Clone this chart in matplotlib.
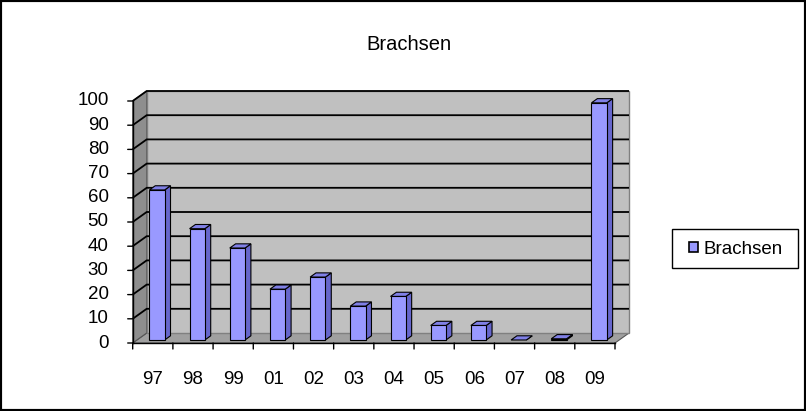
import matplotlib
matplotlib.use("Agg")
import matplotlib.pyplot as plt
from matplotlib.patches import Polygon, Rectangle, Patch

categories = ['97', '98', '99', '01', '02', '03', '04', '05', '06', '07', '08', '09']
values = [62, 46, 38, 21, 26, 14, 18, 6, 6, 0, 0.5, 98]
yticks = [0, 10, 20, 30, 40, 50, 60, 70, 80, 90, 100]
series_name = 'Brachsen'
title = 'Brachsen'

plt.rcParams['font.family'] = ['Liberation Sans', 'DejaVu Sans']

W, H = 806, 411
fig = plt.figure(figsize=(W / 100, H / 100), dpi=100)
fig.patch.set_facecolor('white')

x0p, x1p, y0p, y1p = 132.7, 615.0, 343.0, 101.0
ax = fig.add_axes([x0p / W, 1 - y0p / H, (x1p - x0p) / W, (y0p - y1p) / H])
n = len(categories)
ax.set_xlim(0, n)
ax.set_ylim(0, 100)
ax.axis('off')

DX = 14 / ((x1p - x0p) / n)
DY = 10 / ((y0p - y1p) / 100)

wall_c = '#c0c0c0'
side_c = '#8e8e8e'
floor_c = '#a0a0a0'
TFS = 13.5

# floor
ax.add_patch(Polygon([(0, 0), (n, 0), (n + DX, DY), (DX, DY)], closed=True,
                     facecolor=floor_c, edgecolor='#555555', lw=0.8, clip_on=False, zorder=1))
# side wall
ax.add_patch(Polygon([(0, 0), (DX, DY), (DX, 100 + DY), (0, 100)], closed=True,
                     facecolor=side_c, edgecolor='#555555', lw=0.8, clip_on=False, zorder=1))
# back wall
ax.add_patch(Polygon([(DX, DY), (n + DX, DY), (n + DX, 100 + DY), (DX, 100 + DY)], closed=True,
                     facecolor=wall_c, edgecolor='#808080', lw=1.0, clip_on=False, zorder=1))
# gridlines
for v in yticks[1:]:
    ax.plot([0, DX, n + DX], [v, v + DY, v + DY], color='black', lw=1.3,
            clip_on=False, zorder=2, solid_capstyle='butt')

# front axes
ax.plot([0, 0], [0, 100], color='black', lw=1.0, clip_on=False, zorder=5)
ax.plot([0, n], [0, 0], color='black', lw=1.0, clip_on=False, zorder=5)
for v in yticks:
    ax.annotate('', xy=(0, v), xytext=(-5, 0), textcoords='offset pixels',
                arrowprops=dict(arrowstyle='-', color='black', lw=1.0,
                                shrinkA=0, shrinkB=0), annotation_clip=False)
    ax.annotate(str(v), xy=(0, v), xytext=(-24, 0), textcoords='offset pixels',
                ha='right', va='center', fontsize=TFS, annotation_clip=False)
for i in range(n + 1):
    ax.annotate('', xy=(i, 0), xytext=(0, -6), textcoords='offset pixels',
                arrowprops=dict(arrowstyle='-', color='black', lw=1.0,
                                shrinkA=0, shrinkB=0), annotation_clip=False)
for i, c in enumerate(categories):
    ax.annotate(c, xy=(i + 0.5, 0), xytext=(0, -36), textcoords='offset pixels',
                ha='center', va='center', fontsize=TFS, annotation_clip=False)

# bars
front_c = '#9999ff'
side_bar = '#6666cc'
top_c = '#8080e6'
bw = 0.38
f0, f1 = 0.30, 0.72
for i, v in enumerate(values):
    xl = i + 0.5 - bw / 2
    ox, oy = f0 * DX, f0 * DY
    bx, by = f1 * DX, f1 * DY
    # side
    ax.add_patch(Polygon([(xl + bw + ox, oy), (xl + bw + bx, by), (xl + bw + bx, v + by), (xl + bw + ox, v + oy)],
                         closed=True, facecolor=side_bar, edgecolor='black', lw=0.8, clip_on=False, zorder=3))
    # top
    ax.add_patch(Polygon([(xl + ox, v + oy), (xl + bw + ox, v + oy), (xl + bw + bx, v + by), (xl + bx, v + by)],
                         closed=True, facecolor=top_c, edgecolor='black', lw=0.8, clip_on=False, zorder=3))
    # front
    if v > 0:
        ax.add_patch(Polygon([(xl + ox, oy), (xl + bw + ox, oy), (xl + bw + ox, v + oy), (xl + ox, v + oy)],
                             closed=True, facecolor=front_c, edgecolor='black', lw=0.8, clip_on=False, zorder=4))

fig.text(409 / W, 1 - 44 / H, title, ha='center', va='center', fontsize=14.5)

# legend box
lx0, lx1, ly0, ly1 = 672, 798, 229, 268
fig.patches.append(Rectangle((lx0 / W, 1 - ly1 / H), (lx1 - lx0) / W, (ly1 - ly0) / H,
                             transform=fig.transFigure, facecolor='white', edgecolor='black',
                             lw=1.0, zorder=5))
leg = fig.legend(handles=[Patch(facecolor=front_c, edgecolor='black', lw=1.2, label=series_name)],
                 loc='center', bbox_to_anchor=(736 / W, 1 - 249 / H), fontsize=13.5,
                 frameon=False, handlelength=0.5, handleheight=0.5,
                 handletextpad=0.3, borderpad=0.3, borderaxespad=0)
leg.set_zorder(6)

fig.patches.append(Rectangle((0, 0), 1, 1, transform=fig.transFigure, fill=False,
                             edgecolor='black', lw=3, zorder=10))

fig.savefig('out.png', dpi=100, facecolor='white')
